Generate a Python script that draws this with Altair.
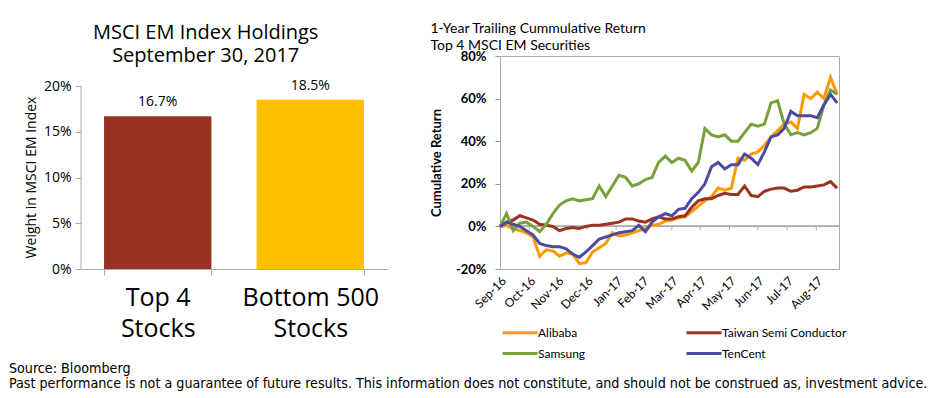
import altair as alt
import pandas as pd

# ---------------- left chart data ----------------
categories = ["Top 4\nStocks", "Bottom 500\nStocks"]
weights = [16.7, 18.5]
bar_colors = ["#973223", "#FFC000"]
left_ticks = [0, 5, 10, 15, 20]

# ---------------- right chart data ----------------
dates = pd.date_range("2016-09-30", periods=52, freq="7D").strftime("%Y-%m-%d").tolist()
alibaba = [0, 0.5, -1, -2, -3, -5, -14, -11, -11.5, -14, -12.5, -13, -17.5, -17, -12, -10,
           -8, -3, -4.5, -4, -3, -2, -1, 0.5, 1, 2.5, 3, 4, 4.5, 7, 9.5, 12, 14, 18, 17, 18,
           32, 31, 34, 35, 38, 42, 45, 48, 49, 46, 62, 60, 63, 60, 70, 62]
tsmc = [0, 2, 3, 5, 4, 3, 1, 0.5, 0, -2, -1, -0.5, -1, 0, 0.5, 0.5, 1, 1.5, 2, 3.5, 3.5,
        2.5, 2, 3.5, 4.5, 3.5, 3.5, 4.5, 5, 9, 12, 13, 13, 14.5, 15.5, 15, 15, 19, 14.5, 14,
        16.5, 17.5, 18, 18, 16.5, 17, 18.5, 18.5, 19, 19.5, 21, 18]
samsung = [0, 6, -2, 1.5, 2, 0, -2.5, 1, 6, 10, 12, 13, 12, 12.5, 13, 19, 14, 19, 24, 23,
           19, 20, 22, 23, 30, 33, 30, 32, 31, 26, 30, 46, 43, 42, 43, 40, 40, 44, 48, 47,
           48, 58, 59, 48, 43, 44, 43, 44, 46, 57, 64, 62]
tencent = [0, 2, 1, 0, -2, -4, -8, -9, -9.5, -9.5, -10.5, -13, -14.5, -12, -9, -6, -5, -4,
           -3, -2.5, -2, 0.5, -2.5, 2, 4.5, 6, 5, 8, 8.5, 13, 16, 20, 28, 30, 27, 29, 29, 34,
           32, 29, 35, 42, 43, 46, 54, 52, 52, 52, 51, 57, 62, 58]
series_names = ["Alibaba", "Taiwan Semi Conductor", "Samsung", "TenCent"]
series_colors = ["#FF9900", "#993322", "#77A13A", "#4B4BA0"]
legend_order = ["Alibaba", "Samsung", "Taiwan Semi Conductor", "TenCent"]
month_ticks = ["2016-09-30", "2016-10-31", "2016-11-30", "2016-12-31", "2017-01-31",
               "2017-02-28", "2017-03-31", "2017-04-30", "2017-05-31", "2017-06-30",
               "2017-07-31", "2017-08-31"]
y_ticks = [-20, 0, 20, 40, 60, 80]

footer = ["Source: Bloomberg",
          "Past performance is not a guarantee of future results. This information does not "
          "constitute, and should not be construed as, investment advice."]

# ---------------- left chart ----------------
bar_df = pd.DataFrame({"cat": categories, "w": weights, "color": bar_colors})
lfont = "Open Sans"
axis_grey = "#aaaaaa"
lscale = alt.Scale(domain=[0, 23.28])
bx = alt.X("cat:N", sort=categories,
           scale=alt.Scale(paddingInner=0.296, paddingOuter=0.151),
           axis=alt.Axis(title=None, labelAngle=0, labelFontSize=25, labelColor="black",
                         labelFont=lfont, labelExpr="split(datum.label, '\\n')",
                         labelLineHeight=31, tickBand="extent", domainColor=axis_grey,
                         tickColor=axis_grey, tickSize=6, labelPadding=10))
by_axis = alt.Axis(values=left_ticks, labelExpr="datum.value + '%'",
                   title="Weight in MSCI EM Index", titleFont=lfont, titleFontSize=14,
                   titleFontWeight="normal", titleColor="black", titlePadding=5,
                   titleY=121, titleAnchor="middle",
                   labelFont=lfont, labelFontSize=14, labelColor="black",
                   domain=False, tickColor=axis_grey, tickSize=6,
                   labelPadding=4, grid=False)
by = alt.Y("w:Q", scale=lscale, axis=by_axis)
bars = alt.Chart(bar_df).mark_bar().encode(
    x=bx, y=by, color=alt.Color("color:N", scale=None, legend=None))
bar_text = alt.Chart(bar_df).transform_calculate(
    lab="format(datum.w, '.1f') + '%'"
).mark_text(baseline="bottom", dy=-7, fontSize=14, font=lfont, color="black").encode(
    x=bx, y=by, text="lab:N")
axis_line = alt.Chart(pd.DataFrame({"lo": [left_ticks[0]], "hi": [left_ticks[-1]]})).mark_rule(
    color=axis_grey, strokeWidth=1).encode(
    x=alt.value(0), y=alt.Y("lo:Q", scale=lscale, axis=by_axis), y2="hi:Q")
left = alt.layer(bars, bar_text, axis_line).properties(
    width=306, height=213,
    view=alt.ViewBackground(stroke="transparent"),
    title=alt.TitleParams(text=["MSCI EM Index Holdings", "September 30, 2017"],
                          anchor="middle", frame="bounds", fontSize=20,
                          fontWeight="normal", font=lfont, lineHeight=23, offset=-10,
                          color="black"))

# ---------------- right chart ----------------
rows = []
for name, vals in zip(series_names, [alibaba, tsmc, samsung, tencent]):
    for d, v in zip(dates, vals):
        rows.append({"date": d, "ret": v, "stock": name})
line_df = pd.DataFrame(rows)
tick_df = pd.DataFrame({"date": month_ticks})

rfont = "Lato"
xscale = alt.Scale(type="utc",
                   domain=[alt.DateTime(year=2016, month=9, date=30, utc=True),
                           alt.DateTime(year=2017, month=9, date=24, utc=True)])
yscale = alt.Scale(domain=[-20, 80])
tick_vals = [alt.DateTime(year=int(t[:4]), month=int(t[5:7]), date=int(t[8:]), utc=True)
             for t in month_ticks]
rx_axis = alt.Axis(title=None, values=tick_vals,
                   labelExpr="utcFormat(datum.value, '%b-%y')",
                   labelAngle=-45, labelAlign="right", labelBaseline="top",
                   labelFont=rfont, labelFontSize=12, labelColor="black",
                   ticks=False, domain=False, labelPadding=6, grid=False,
                   labelOverlap=False)
ry_axis = alt.Axis(values=y_ticks, labelExpr="datum.value + '%'",
                   title="Cumulative Return", titleFont=rfont, titleFontSize=13,
                   titleFontWeight="bold", titleColor="black", titlePadding=12,
                   labelFont=rfont, labelFontSize=13, labelFontWeight="bold",
                   labelColor="black", domain=False, tickColor="#999999",
                   tickSize=5, labelPadding=9, grid=False)
rx = alt.X("date:T", scale=xscale, axis=rx_axis)
ry = alt.Y("ret:Q", scale=yscale, axis=ry_axis)

tick_marks = alt.Chart(tick_df).transform_calculate(
    ret0="0", ret1="-1.8"
).mark_rule(color=axis_grey, strokeWidth=1).encode(
    x=rx, y=alt.Y("ret0:Q", scale=yscale, axis=ry_axis), y2="ret1:Q")
zero_line = alt.Chart(tick_df).transform_calculate(
    ret0="0"
).mark_rule(color=axis_grey, strokeWidth=1).encode(
    y=alt.Y("ret0:Q", scale=yscale, axis=ry_axis))
color_range = [series_colors[series_names.index(n)] for n in legend_order]
lines = alt.Chart(line_df).mark_line(strokeWidth=3).encode(
    x=rx, y=ry,
    color=alt.Color("stock:N", sort=legend_order,
                    scale=alt.Scale(domain=legend_order, range=color_range),
                    legend=alt.Legend(title=None, orient="none", legendX=11.5, legendY=268,
                                      columns=2, symbolType="M-2.5,0H2.5", symbolSize=196,
                                      symbolStrokeWidth=3, labelFont=rfont,
                                      labelFontSize=12, labelColor="black",
                                      labelOffset=9.5, columnPadding=95, rowPadding=6,
                                      padding=0)),
)
right = alt.layer(tick_marks, zero_line, lines).properties(
    width=339, height=213,
    view=alt.ViewBackground(stroke="#aaaaaa"),
    title=alt.TitleParams(text=["1-Year Trailing Cummulative Return",
                                "Top 4 MSCI EM Securities"],
                          anchor="start", fontSize=14, fontWeight="normal", font=rfont,
                          lineHeight=17, offset=-3, color="black"))

chart = alt.hconcat(left, right, spacing=41).resolve_scale(
    color="independent").resolve_legend(color="independent").properties(
    padding={"left": 0, "top": 13, "right": 0, "bottom": 0},
    title=alt.TitleParams(text=footer, orient="bottom", anchor="start", fontSize=14.2,
                          fontWeight="normal", font="DejaVu Sans Condensed",
                          lineHeight=15, dx=-15, offset=1, color="black"))

chart.save("out.html", embed_options={"renderer": "svg", "actions": False})
